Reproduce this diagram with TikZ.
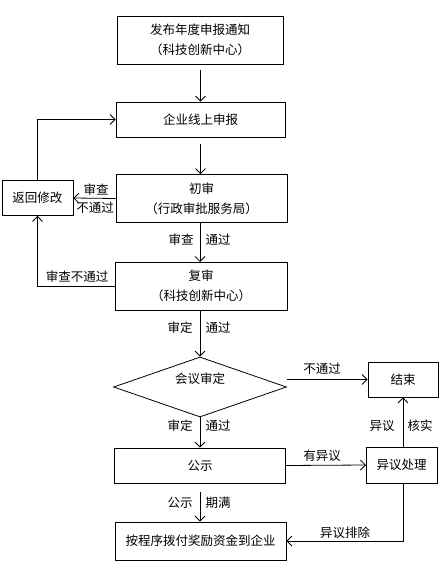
\documentclass[tikz,border=0pt]{standalone}
\usepackage{fontspec}
\newfontfamily\cjk{Noto Sans CJK SC}
\usetikzlibrary{arrows.meta,shapes.geometric}
\begin{document}
\begin{tikzpicture}[x=1pt,y=-1pt,
  every node/.style={font=\cjk\fontsize{12.5}{20}\selectfont, text=black},
  box/.style={draw, line width=0.8pt, rectangle, inner sep=0pt, align=center},
  lab/.style={inner sep=0pt},
  arr/.style={draw, line width=0.8pt, -{Straight Barb[length=5pt,width=10pt]}},
  ]
\useasboundingbox (0,0) rectangle (442,575);
\node[box, minimum width=166pt, minimum height=48pt] (n1) at (200,40) {发布年度申报通知\\（科技创新中心）};
\node[box, minimum width=169pt, minimum height=35pt] (n2) at (200.5,119.5) {企业线上申报};
\node[box, minimum width=171pt, minimum height=48pt] (n3) at (201.5,198.5) {初审\\（行政审批服务局）};
\node[box, minimum width=71pt, minimum height=35pt] (back) at (37.5,198) {返回修改};
\node[box, minimum width=172pt, minimum height=48pt] (n4) at (201,286) {复审\\（科技创新中心）};
\node[draw, diamond, aspect=2.88, minimum width=173pt, minimum height=60pt, inner sep=0pt, line width=0.8pt] (dia) at (200,387) {};
\node[lab] (diat) at (200,379) {会议审定};
\node[box, minimum width=70pt, minimum height=35pt] (end) at (403,379.5) {结束};
\node[box, minimum width=171pt, minimum height=35pt] (gs) at (200,465.5) {公示};
\node[box, minimum width=71pt, minimum height=36pt] (yy) at (401.5,465) {异议处理};
\node[box, minimum width=171pt, minimum height=38pt] (pay) at (200.5,541) {按程序拨付奖励资金到企业};

\draw[arr, shorten <=6pt] (n1.south -| n2.north) -- (n2.north);
\draw[arr, shorten <=7pt] (n2.south) -- (n2.south |- n3.north);
\draw[arr] (n3.west) -- (back.east);
\draw[arr] (back.north) |- (n2.west);
\draw[arr] (n3.south -| 200,0) -- (200,262);
\draw[arr] (n4.west) -| (back.south);
\draw[arr] (n4.south -| dia.north) -- (dia.north);
\draw[arr] (end.west -| dia.east) -- (end.west);
\draw[arr] (dia.south) -- (gs.north);
\draw[arr] (gs.east) -- (yy.west -| 366,0);
\draw[arr] (yy.north -| end.south) -- (end.south);
\draw[arr, shorten <=9pt] (gs.south) -- (pay.north -| gs.south);
\draw[arr] (yy.south -| end.south) |- (pay.east);

\node[lab] (l1) at (96,190) {审查};
\node[lab] (l2) at (95,208) {不通过};
\node[lab] (l3) at (181,240) {审查};
\node[lab] (l4) at (218,240) {通过};
\node[lab] (l5) at (77,277) {审查不通过};
\node[lab] (l6) at (180,328) {审定};
\node[lab] (l7) at (218,328) {通过};
\node[lab] (l8) at (322,369) {不通过};
\node[lab] (l9) at (180,426) {审定};
\node[lab] (l10) at (218,426) {通过};
\node[lab] (l11) at (322,456) {有异议};
\node[lab] (l12) at (382,426) {异议};
\node[lab] (l13) at (420,426) {核实};
\node[lab] (l14) at (180,503) {公示};
\node[lab] (l15) at (218,503) {期满};
\node[lab] (l16) at (345,533) {异议排除};
\end{tikzpicture}
\end{document}
